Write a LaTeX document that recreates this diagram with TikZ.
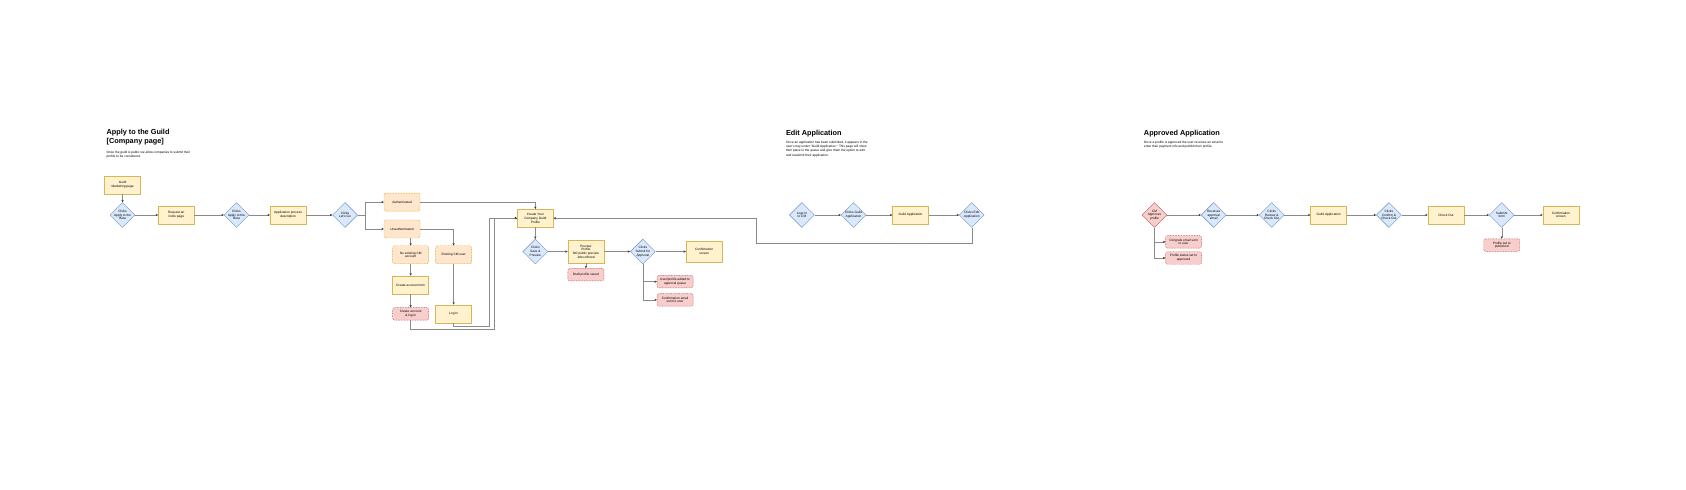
\documentclass[tikz,border=0pt]{standalone}
\usepackage{fontspec}
\setmainfont{Liberation Sans}
\usepackage{tikz}
\usetikzlibrary{shapes.geometric}
\usetikzlibrary{arrows.meta}
\usetikzlibrary{positioning}

\definecolor{yfill}{HTML}{FFF2CC}
\definecolor{yline}{HTML}{D6B656}
\definecolor{bfill}{HTML}{DAE8FC}
\definecolor{bline}{HTML}{6C8EBF}
\definecolor{ofill}{HTML}{FFE6CC}
\definecolor{oline}{HTML}{D79B00}
\definecolor{rfill}{HTML}{F8CECC}
\definecolor{rline}{HTML}{B85450}
\definecolor{wire}{HTML}{8A8A8A}
\definecolor{tip}{HTML}{303030}

\newcommand{\flowfont}{\fontsize{3.2}{3.7}\selectfont}
\newcommand{\headfont}{\fontsize{7.3}{8.6}\selectfont\bfseries}
\newcommand{\notefont}{\fontsize{3.2}{4.3}\selectfont}

\begin{document}
\begin{tikzpicture}[x=1.075pt, y=-1.075pt,
    every node/.style={font=\flowfont},
    box/.style={draw=yline, fill=yfill, line width=0.4pt, minimum width=36pt,
      minimum height=18pt, inner sep=0.5pt, align=center},
    orangebox/.style={box, draw=oline, fill=ofill, rounded corners=2pt,
      dash pattern=on 0.8pt off 0.8pt},
    redbox/.style={box, draw=rline, fill=rfill, rounded corners=2pt,
      minimum height=12.5pt, dash pattern=on 0.8pt off 0.8pt},
    choice/.style={draw=bline, fill=bfill, diamond, line width=0.4pt,
      minimum width=25pt, minimum height=25pt, inner sep=-3pt, align=center},
    redchoice/.style={choice, draw=rline, fill=rfill},
    head/.style={anchor=north west, inner sep=0pt, align=left, font=\headfont},
    note/.style={anchor=north west, inner sep=0pt, align=left, font=\notefont},
    flow/.style={draw=wire, line width=0.4pt,
      -{Stealth[length=2.4pt, width=2.2pt, color=tip]}},
  ]
    \useasboundingbox (0, 0) rectangle (1568.4, 454.9);

    % Apply to the Guild
    \node(head1) [head] at (99, 120) {Apply to the Guild\\{[Company page]}};
    \node(note1) [note] at (99, 140) {Once the guild is public we allow companies to submit their\\profile to be considered.};

    \node(guild) [box] at (114, 172) {Guild\\Marketing page};
    \node(d1) [choice] at (114, 200) {Clicks\\Apply to the\\Beta};
    \node(req) [box] at (164, 200) {Request an\\invite page};
    \node(d2) [choice] at (220, 200) {Clicks\\Apply to the\\Beta};
    \node(app) [box] at (268, 200) {Application process\\description};
    \node(d3) [choice] at (321, 200) {Clicks\\Let's Go};
    \coordinate(split) at (340, 200);

    \node(auth) [orangebox] at (374, 188) {Authenticated};
    \node(unauth) [orangebox] at (374, 213) {Unauthenticated};
    \node(noacct) [orangebox] at (382, 237) {No existing CM\\account};
    \node(exist) [orangebox] at (422, 237) {Existing CM user};
    \node(form) [box] at (382, 265) {Create account form};
    \node(made) [redbox] at (382, 292) {Create account\\\& log in};
    \node(login) [box] at (422, 292) {Log In};

    \draw[flow] (guild) -- (d1);
    \draw[flow] (d1) -- (req);
    \draw[flow] (req) -- (d2);
    \draw[flow] (d2) -- (app);
    \draw[flow] (app) -- (d3);
    \draw[flow] (d3.east) -- (split) |- (auth);
    \draw[flow] (split) |- (unauth);
    \draw[flow] (unauth.south -| noacct.north) -- (noacct.north);
    \draw[flow] (unauth.east) -| (exist.north);
    \draw[flow] (noacct) -- (form);
    \draw[flow] (form) -- (made);
    \draw[flow] (exist) -- (login);

    % profile
    \node(create) [box] at (498, 203) {Create Your\\Company Guild\\Profile};
    \node(save) [choice] at (498, 234) {Clicks\\Save \&\\Preview};
    \node(preview) [box, minimum height=23pt] at (545, 234) {Preview\\Profile\\NO public preview\\Jobs offered};
    \node(draft) [redbox, below = 5pt of preview] {Draft profile saved};
    \node(submit) [choice] at (598, 234) {Clicks\\Submit for\\Approval};
    \node(confirm) [box, minimum height=21pt] at (655, 234) {Confirmation\\screen};
    \node(queue) [redbox] at (628, 262) {User/profile added to\\approval queue};
    \node(mail) [redbox] at (628, 279) {Confirmation email\\sent to user};

    \coordinate(bend1) at (460, 306);
    \coordinate(bend2) at (455, 303);
    \draw[flow] (auth.east) -| (create.north);
    \draw[flow] (made.south) |- (bend1) |- (create.west);
    \draw[flow] (login.south) |- (bend2) |- (create.west);
    \draw[flow] (create) -- (save);
    \draw[flow] (save) -- (preview);
    \draw[flow] (preview) -- (draft);
    \draw[flow] (preview) -- (submit);
    \draw[flow] (submit) -- (confirm);
    \draw[flow] (submit.south) |- (queue.west);
    \draw[flow] (submit.south) |- (mail.west);

    % Edit Application
    \node(head2) [head] at (731, 121) {Edit Application};
    \node(note2) [note] at (731, 131) {Once an application has been submitted, it appears in the\\user's tray under “Guild Application.” This page will show\\their place in the queue and give them the option to edit\\and resubmit their application.};

    \node(logs) [choice] at (746, 200) {Logs in\\to CM};
    \node(clickguild) [choice] at (794, 200) {Clicks Guild\\Application};
    \node(guildapp) [box] at (847, 200) {Guild Application};
    \node(edit) [choice] at (904, 200) {Clicks Edit\\Application};
    \coordinate(back) at (703, 226);

    \draw[flow] (logs) -- (clickguild);
    \draw[flow] (clickguild) -- (guildapp);
    \draw[flow] (guildapp) -- (edit);
    \draw[flow] (edit.south) |- (back) |- (create.east);

    % Approved Application
    \node(head3) [head] at (1064, 121) {Approved Application};
    \node(note3) [note] at (1064, 131) {Once a profile is approved the user receives an email to\\enter their payment info and publish their profile.};

    \node(cmok) [redchoice] at (1074, 200) {CM\\Approves\\profile};
    \node(receive) [choice] at (1129, 200) {Receives\\approval\\email};
    \node(review) [choice] at (1183, 200) {Clicks\\Review \&\\Check Out};
    \node(guildapp2) [box] at (1236, 200) {Guild Application};
    \node(confirmco) [choice] at (1292, 200) {Clicks\\Confirm \&\\Check Out};
    \node(checkout) [box] at (1345, 200) {Check Out};
    \node(submits) [choice] at (1397, 200) {Submits\\form};
    \node(done) [box] at (1452, 200) {Confirmation\\screen};
    \node(published) [redbox] at (1397, 228) {Profile set to\\published};
    \node(congrats) [redbox] at (1101, 225) {Congrats email sent\\to user};
    \node(status) [redbox] at (1101, 240) {Profile status set to\\approved};

    \draw[flow] (cmok) -- (receive);
    \draw[flow] (receive) -- (review);
    \draw[flow] (review) -- (guildapp2);
    \draw[flow] (guildapp2) -- (confirmco);
    \draw[flow] (confirmco) -- (checkout);
    \draw[flow] (checkout) -- (submits);
    \draw[flow] (submits) -- (done);
    \draw[flow] (submits) -- (published);
    \draw[flow] (cmok.south) |- (congrats.west);
    \draw[flow] (cmok.south) |- (status.west);
  \end{tikzpicture}
\end{document}
